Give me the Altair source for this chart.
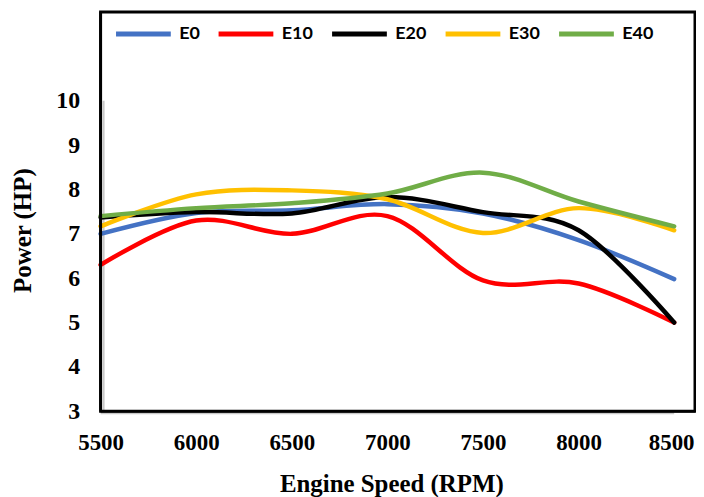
import altair as alt
import pandas as pd

rpm = [5500, 6000, 6500, 7000, 7500, 8000, 8500]
series_names = ["E0", "E10", "E20", "E30", "E40"]
e0 = [7.0, 7.47, 7.53, 7.67, 7.46, 6.86, 5.98]
e10 = [6.3, 7.3, 7.0, 7.4, 5.95, 5.88, 5.0]
e20 = [7.37, 7.49, 7.46, 7.83, 7.49, 7.08, 5.0]
e30 = [7.17, 7.89, 7.98, 7.78, 7.02, 7.58, 7.08]
e40 = [7.4, 7.58, 7.69, 7.91, 8.38, 7.73, 7.17]
colors = ["#4472C4", "#FF0000", "#000000", "#FFC000", "#70AD47"]
x_ticks = [5500, 6000, 6500, 7000, 7500, 8000, 8500]
y_ticks = [3, 4, 5, 6, 7, 8, 9, 10]

rows = []
for name, vals in zip(series_names, [e0, e10, e20, e30, e40]):
    for r, v in zip(rpm, vals):
        rows.append({"rpm": r, "power": v, "fuel": name, "order": series_names.index(name)})
df = pd.DataFrame(rows)

serif = "Liberation Serif"

x_scale = alt.Scale(domain=[5500, 8609], nice=False, zero=False)
y_scale = alt.Scale(domain=[3, 12], nice=False, zero=False)

lines = alt.Chart(df).mark_line(interpolate="cardinal", strokeWidth=4.5, strokeCap="round").encode(
    x=alt.X("rpm:Q", scale=x_scale,
            axis=alt.Axis(values=x_ticks, format="d", title="Engine Speed (RPM)", grid=False, domain=False,
                          ticks=False, labelFont=serif, labelFontSize=23, labelFontWeight="bold",
                          labelColor="#000", labelPadding=20, labelFlush=False,
                          labelOffset=alt.ExprRef(expr="datum.value == 8500 ? -3 : 0"),
                          titleFont=serif, titleFontSize=25, titleFontWeight="bold", titleColor="#000",
                          titleX=292, titleY=81, titleBaseline="alphabetic", titleAnchor="middle")),
    y=alt.Y("power:Q", scale=y_scale,
            axis=alt.Axis(values=y_ticks, format="d", title="Power (HP)", grid=False, domain=False,
                          ticks=False, labelFont=serif, labelFontSize=24, labelFontWeight="bold",
                          labelColor="#000", labelPadding=21, labelFlush=False,
                          titleFont=serif, titleFontSize=25, titleFontWeight="bold", titleColor="#000",
                          titleX=-70, titleY=219, titleAngle=-90, titleBaseline="alphabetic",
                          titleAlign="center")),
    color=alt.Color("fuel:N", scale=alt.Scale(domain=series_names, range=colors),
                    legend=alt.Legend(title=None, orient="none", direction="horizontal",
                                      legendX=13, legendY=-8, symbolType="stroke",
                                      symbolSize=3025, symbolStrokeWidth=5,
                                      labelFont="Lato", labelFontSize=18, labelFontWeight="bold",
                                      labelColor="#000", labelOffset=6, columnPadding=8)),
    order=alt.Order("order:Q"),
    detail="fuel:N",
)

one = alt.Data(values=[{}])
shadow_y = alt.Chart(one).mark_rule(color="#c8c8c8", strokeWidth=2, xOffset=3).encode(
    x=alt.datum(5500), y=alt.datum(3), y2=alt.datum(10))
shadow_x = alt.Chart(one).mark_rule(color="#c8c8c8", strokeWidth=2, yOffset=2).encode(
    y=alt.datum(3), x=alt.datum(5500), x2=alt.datum(8500))
frame = alt.Chart(one).mark_rect(filled=False, stroke="#000", strokeWidth=3).encode(
    x=alt.value(0), x2=alt.value(597), y=alt.value(0), y2=alt.value(401))
left_edge = alt.Chart(one).mark_rule(color="#000", strokeWidth=2.5).encode(
    x=alt.datum(5500), y=alt.datum(3), y2=alt.datum(12))
bottom_edge = alt.Chart(one).mark_rule(color="#000", strokeWidth=2.5).encode(
    y=alt.datum(3), x=alt.datum(5500), x2=alt.datum(8609))

chart = alt.layer(shadow_y, shadow_x, lines, frame, left_edge, bottom_edge).properties(
    width=597, height=401,
    autosize=alt.AutoSizeParams(type="none"),
    padding={"left": 93, "top": 3, "right": 1, "bottom": 85},
).configure(background="white").configure_view(stroke="transparent")

chart.save("out.html", embed_options={"renderer": "svg", "actions": False})
